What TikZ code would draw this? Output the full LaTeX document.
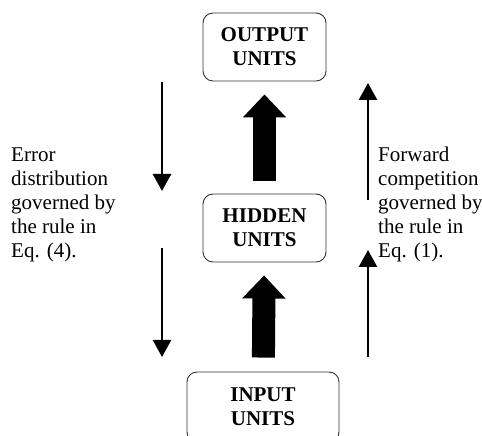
\documentclass[tikz,border=0pt]{standalone}
\usepackage{fontspec}
\setmainfont{Liberation Serif}
\usetikzlibrary{arrows.meta}

\begin{document}
\begin{tikzpicture}[x=1pt, y=1pt,
  unit/.style={draw=black!80, line width=0.9pt, rounded corners=10pt, minimum width=123pt, minimum height=68pt, align=center, font=\fontsize{21}{24}\selectfont\bfseries},
  flow/.style={line width=23pt, -{Triangle[width=42pt,length=23pt]}},
  rule/.style={line width=2.6pt, -{Triangle[width=18pt,length=17pt]}},
  note/.style={anchor=base west, inner sep=0pt, align=left, font=\fontsize{21}{24}\selectfont}]
  \useasboundingbox (0,0) rectangle (482,436);
  \node[unit] (out) at (264.5,389) {OUTPUT\\UNITS};
  \node[unit] (hid) at (264.5,208) {HIDDEN\\UNITS};
  \node[unit, minimum width=152pt, minimum height=70pt] (in) at (263,29) {INPUT\\UNITS};
  % thin side arrows
  \coordinate (l1) at (162,354); \coordinate (l2) at (162,245);
  \coordinate (l3) at (162,188); \coordinate (l4) at (162,79);
  \coordinate (r1) at (368,236); \coordinate (r2) at (368,353);
  \coordinate (r3) at (368,79);  \coordinate (r4) at (368,186);
  \path[flow]
  (in) edge [shorten <=14pt, shorten >=13pt] (hid)
  (hid) edge [shorten <=13pt, shorten >=13pt] (out)
;
  \path[rule]
  (l1) edge (l2)
  (l3) edge (l4)
  (r1) edge (r2)
  (r3) edge (r4)
;
  % last line sits on the node's base
  \node[note] (err) at (11,178) {Error\\distribution\\governed by\\the rule in\\Eq. (4).};
  \node[note] (fwd) at (378,178) {Forward\\competition\\governed by\\the rule in\\Eq. (1).};
\end{tikzpicture}
\end{document}
